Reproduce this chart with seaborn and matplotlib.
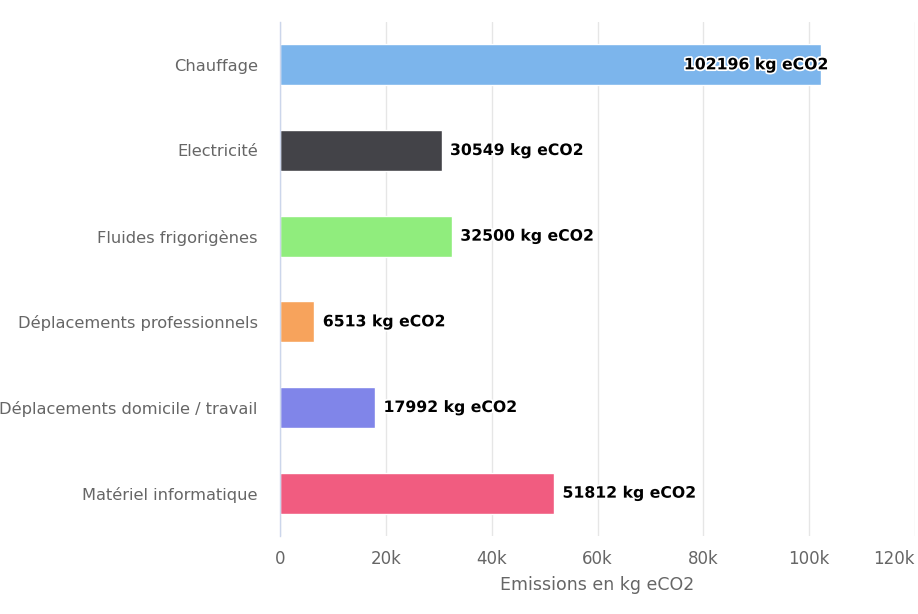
import matplotlib
matplotlib.use("Agg")
import matplotlib.pyplot as plt
import matplotlib.patheffects as pe
import seaborn as sns
import pandas as pd

categories = ["Chauffage", "Electricité", "Fluides frigorigènes",
              "Déplacements professionnels", "Déplacements domicile / travail",
              "Matériel informatique"]
values = [102196, 30549, 32500, 6513, 17992, 51812]
colors = ["#7cb5ec", "#434348", "#90ed7d", "#f7a35c", "#8085e9", "#f15c80"]
x_ticks = [0, 20000, 40000, 60000, 80000, 100000, 120000]
x_tick_labels = ["0", "20k", "40k", "60k", "80k", "100k", "120k"]
x_label = "Emissions en kg eCO2"
unit = "kg eCO2"

sns.set_theme(style="white")
plt.rcParams['font.family'] = ['DejaVu Sans']

df = pd.DataFrame({"cat": categories, "val": values})

fig = plt.figure(figsize=(9.18, 6.14), dpi=100)
ax = fig.add_axes([280/918, 1-536/614, 635/918, 514/614])

sns.barplot(data=df, x="val", y="cat", hue="cat", palette=colors,
            orient="h", width=0.48, legend=False, ax=ax, saturation=1)

ax.set_xlim(0, 120000)
ax.set_xticks(x_ticks)
ax.set_xticklabels(x_tick_labels)
ax.grid(axis="x", color="#e6e6e6", linewidth=1)
ax.set_axisbelow(True)
for s in ["top", "right", "bottom"]:
    ax.spines[s].set_visible(False)
ax.spines["left"].set_color("#ccd6eb")
ax.spines["left"].set_linewidth(1)
ax.tick_params(axis="x", length=0, pad=10, labelsize=12, labelcolor="#666666")
ax.tick_params(axis="y", length=0, pad=16, labelsize=11.7, labelcolor="#666666")
ax.set_xlabel(x_label, fontsize=12.5, color="#666666", labelpad=6)
ax.set_ylabel("")

# keep last tick label inside the figure (as the reference does)
last = ax.get_xticklabels()[-1]
last.set_horizontalalignment("right")

xmax = ax.get_xlim()[1]
for i, v in enumerate(values):
    txt = f"{v} {unit}"
    inside = v / xmax > 0.75
    ax.annotate(txt, xy=(v, i), xytext=(6, 0), textcoords="offset points",
                ha="right" if inside else "left", va="center",
                fontsize=11.3, fontweight="bold", color="black",
                path_effects=[pe.withStroke(linewidth=2.5, foreground="white")])

fig.savefig("out.png", dpi=100)
